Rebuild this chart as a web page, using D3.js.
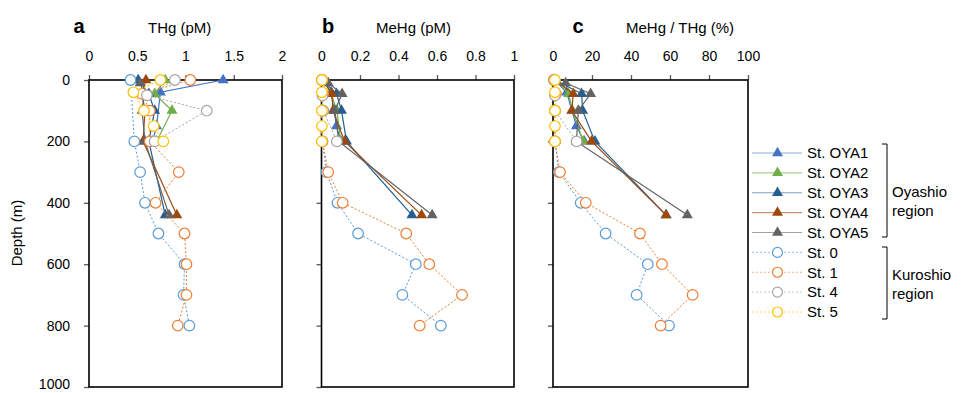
<!DOCTYPE html>
<html>
<head>
<meta charset="utf-8">
<script src="https://cdn.jsdelivr.net/npm/d3@7"></script>
<style>
  body { margin: 0; background: #fff; }
  svg { font-family: "Liberation Sans", Arial, sans-serif; }
</style>
</head>
<body>
<div id="chart"></div>
<script>
// station names / colours (Excel palette)
const stationNames = ["St. OYA1", "St. OYA2", "St. OYA3", "St. OYA4", "St. OYA5", "St. 0", "St. 1", "St. 4", "St. 5"];
const stationColors = ["#4472C4", "#70AD47", "#255E91", "#9E480E", "#636363", "#5B9BD5", "#ED7D31", "#A5A5A5", "#FFC000"];

// sampling depths (m) per station
const depthOYA1 = [0, 40, 150, 200];
const depthOYA2 = [0, 45, 100, 200];
const depthOYA3 = [0, 45, 100, 200, 440];
const depthOYA4 = [0, 45, 100, 200, 440];
const depthOYA5 = [10, 45, 100, 200, 440];
const depthSt0 = [0, 200, 300, 400, 500, 600, 700, 800];
const depthSt1 = [0, 45, 100, 200, 300, 400, 500, 600, 700, 800];
const depthSt4 = [0, 50, 100, 200];
const depthSt5 = [0, 40, 100, 150, 200];

// THg (pM)
const thgOYA1 = [1.39, 0.74, 0.70, 0.66];
const thgOYA2 = [0.79, 0.68, 0.86, 0.70];
const thgOYA3 = [0.51, 0.62, 0.68, 0.62, 0.79];
const thgOYA4 = [0.59, 0.55, 0.58, 0.56, 0.91];
const thgOYA5 = [0.53, 0.57, 0.55, 0.58, 0.83];
const thgSt0 = [0.43, 0.47, 0.53, 0.58, 0.72, 0.99, 0.98, 1.04];
const thgSt1 = [1.05, 0.55, 0.63, 0.63, 0.93, 0.69, 0.99, 1.01, 1.01, 0.92];
const thgSt4 = [0.89, 0.60, 1.22, 0.68];
const thgSt5 = [0.74, 0.46, 0.57, 0.67, 0.77];

// MeHg (pM)
const mehgOYA1 = [0.01, 0.05, 0.078, 0.10];
const mehgOYA2 = [0.01, 0.05, 0.08, 0.10];
const mehgOYA3 = [0.005, 0.078, 0.104, 0.13, 0.47];
const mehgOYA4 = [0.005, 0.054, 0.06, 0.12, 0.52];
const mehgOYA5 = [0.035, 0.107, 0.069, 0.09, 0.575];
const mehgSt0 = [0.002, 0.004, 0.026, 0.083, 0.19, 0.49, 0.42, 0.62];
const mehgSt1 = [0.003, 0.008, 0.004, 0.005, 0.035, 0.11, 0.44, 0.56, 0.73, 0.51];
const mehgSt4 = [0.002, 0.005, 0.01, 0.08];
const mehgSt5 = [0.002, 0.002, 0.002, 0.002, 0.002];

// MeHg / THg (%)
const ratioOYA1 = [1, 7, 12, 16];
const ratioOYA2 = [1.5, 8, 10, 15.5];
const ratioOYA3 = [1, 14.7, 15.2, 21.5, 58];
const ratioOYA4 = [1, 10.4, 9.6, 19.8, 58];
const ratioOYA5 = [6.5, 19.3, 13, 12, 68.9];
const ratioSt0 = [0.5, 1, 3, 14.2, 27, 48.6, 42.9, 59.5];
const ratioSt1 = [0.5, 1.5, 1, 1, 3.6, 16.8, 44.6, 55.9, 71.6, 55.2];
const ratioSt4 = [0.5, 1, 1, 12.1];
const ratioSt5 = [1, 1, 1, 1, 1];

// axis ticks
const depthTicks = [0, 200, 400, 600, 800, 1000];
const thgTicks = [0, 0.5, 1, 1.5, 2];
const mehgTicks = [0, 0.2, 0.4, 0.6, 0.8, 1];
const ratioTicks = [0, 20, 40, 60, 80, 100];

const depths = [depthOYA1, depthOYA2, depthOYA3, depthOYA4, depthOYA5, depthSt0, depthSt1, depthSt4, depthSt5];
const panels = [
  {letter: "a", title: "THg (pM)", ticks: thgTicks, domain: [0, 2], x0: 89, x1: 282, lx: 79, tx: 148,
   values: [thgOYA1, thgOYA2, thgOYA3, thgOYA4, thgOYA5, thgSt0, thgSt1, thgSt4, thgSt5]},
  {letter: "b", title: "MeHg (pM)", ticks: mehgTicks, domain: [0, 1], x0: 321.5, x1: 514, lx: 328, tx: 376,
   values: [mehgOYA1, mehgOYA2, mehgOYA3, mehgOYA4, mehgOYA5, mehgSt0, mehgSt1, mehgSt4, mehgSt5]},
  {letter: "c", title: "MeHg / THg (%)", ticks: ratioTicks, domain: [0, 100], x0: 553, x1: 748, lx: 578, tx: 626,
   values: [ratioOYA1, ratioOYA2, ratioOYA3, ratioOYA4, ratioOYA5, ratioSt0, ratioSt1, ratioSt4, ratioSt5]}
];

const width = 971, height = 393;
const svg = d3.select("#chart").append("svg")
    .attr("width", width)
    .attr("height", height)
    .attr("viewBox", [0, 0, width, height]);

const y = d3.scaleLinear().domain([0, 1000]).range([80, 387]);

const triangle = d3.symbol().type(d3.symbolTriangle).size(52);
const isOya = i => i < 5;

panels.forEach((p, pi) => {
  const x = d3.scaleLinear().domain(p.domain).range([p.x0, p.x1]);
  const g = svg.append("g");

  // top axis
  g.append("g")
      .attr("transform", `translate(0,${y(0)})`)
      .call(d3.axisTop(x).tickValues(p.ticks).tickSize(5).tickPadding(14).tickFormat(d3.format("")))
      .call(a => a.select(".domain").remove())
      .call(a => a.selectAll(".tick line").attr("stroke", "#595959").attr("stroke-width", 1.3))
      .call(a => a.selectAll("text").attr("font-size", 14).attr("fill", "#000").attr("font-family", "Liberation Sans, Arial"));

  // left axis
  g.append("g")
      .attr("transform", `translate(${p.x0},0)`)
      .call(d3.axisLeft(y).tickValues(depthTicks).tickSize(5).tickPadding(14).tickFormat(d3.format("")))
      .call(a => a.select(".domain").remove())
      .call(a => a.selectAll(".tick line").attr("stroke", "#595959").attr("stroke-width", 1.3))
      .call(a => a.selectAll("text")
          .attr("font-size", 14).attr("fill", "#000").attr("font-family", "Liberation Sans, Arial")
          .attr("dy", d => d === 1000 ? "0.1em" : "0.32em")
          .attr("display", pi === 0 ? null : "none"));

  // frame
  g.append("rect")
      .attr("x", p.x0).attr("y", y(0))
      .attr("width", p.x1 - p.x0).attr("height", y(1000) - y(0))
      .attr("fill", "none").attr("stroke", "#000").attr("stroke-width", 1.6);

  // titles
  svg.append("text")
      .attr("x", p.lx).attr("y", 33)
      .attr("font-size", 20).attr("font-weight", "bold")
      .attr("text-anchor", "middle")
      .text(p.letter);
  svg.append("text")
      .attr("x", p.tx).attr("y", 33)
      .attr("font-size", 15)
      .text(p.title);

  // series
  p.values.forEach((vals, si) => {
    const pts = vals.map((v, k) => [x(v), y(depths[si][k])]);
    g.append("path")
        .attr("fill", "none")
        .attr("stroke", stationColors[si])
        .attr("stroke-width", isOya(si) ? 1.2 : 1)
        .attr("stroke-dasharray", isOya(si) ? null : "2,2")
        .attr("d", d3.line()(pts));
    pts.forEach(pt => {
      if (isOya(si)) {
        g.append("path")
            .attr("d", triangle())
            .attr("transform", `translate(${pt[0]},${pt[1]})`)
            .attr("fill", stationColors[si]);
      } else {
        g.append("circle")
            .attr("cx", pt[0]).attr("cy", pt[1]).attr("r", 5.3)
            .attr("fill", "#fff")
            .attr("stroke", stationColors[si])
            .attr("stroke-width", 1.2);
      }
    });
  });
});

// y label
svg.append("text")
    .attr("transform", "translate(22,233) rotate(-90)")
    .attr("text-anchor", "middle")
    .attr("font-size", 15)
    .text("Depth (m)");

// legend
const leg = svg.append("g");
const legY = d3.scalePoint().domain(stationNames).range([153, 312]);
stationNames.forEach((name, i) => {
  const yy = legY(name);
  leg.append("line")
      .attr("x1", 752).attr("x2", 802).attr("y1", yy).attr("y2", yy)
      .attr("stroke", stationColors[i])
      .attr("stroke-opacity", 0.6)
      .attr("stroke-width", isOya(i) ? 1.2 : 1)
      .attr("stroke-dasharray", isOya(i) ? null : "2,2");
  if (isOya(i)) {
    leg.append("path")
        .attr("d", triangle())
        .attr("transform", `translate(777.5,${yy})`)
        .attr("fill", stationColors[i]);
  } else {
    leg.append("circle")
        .attr("cx", 777.5).attr("cy", yy).attr("r", 5)
        .attr("fill", "#fff")
        .attr("stroke", stationColors[i])
        .attr("stroke-width", 1.2);
  }
  leg.append("text")
      .attr("x", 807).attr("y", yy)
      .attr("dy", "0.35em")
      .attr("font-size", 15)
      .text(name);
});

// region brackets
function bracket(y0, y1, label1, label2, ty) {
  leg.append("path")
      .attr("d", `M882,${y0}H887V${y1}H882`)
      .attr("fill", "none").attr("stroke", "#000").attr("stroke-width", 1);
  leg.append("text").attr("x", 892).attr("y", ty).attr("dy", "0.35em").attr("font-size", 15).text(label1);
  leg.append("text").attr("x", 892).attr("y", ty + 19).attr("dy", "0.35em").attr("font-size", 15).text(label2);
}
bracket(144, 237, "Oyashio", "region", 192);
bracket(247, 319, "Kuroshio", "region", 275);
</script>
</body>
</html>
